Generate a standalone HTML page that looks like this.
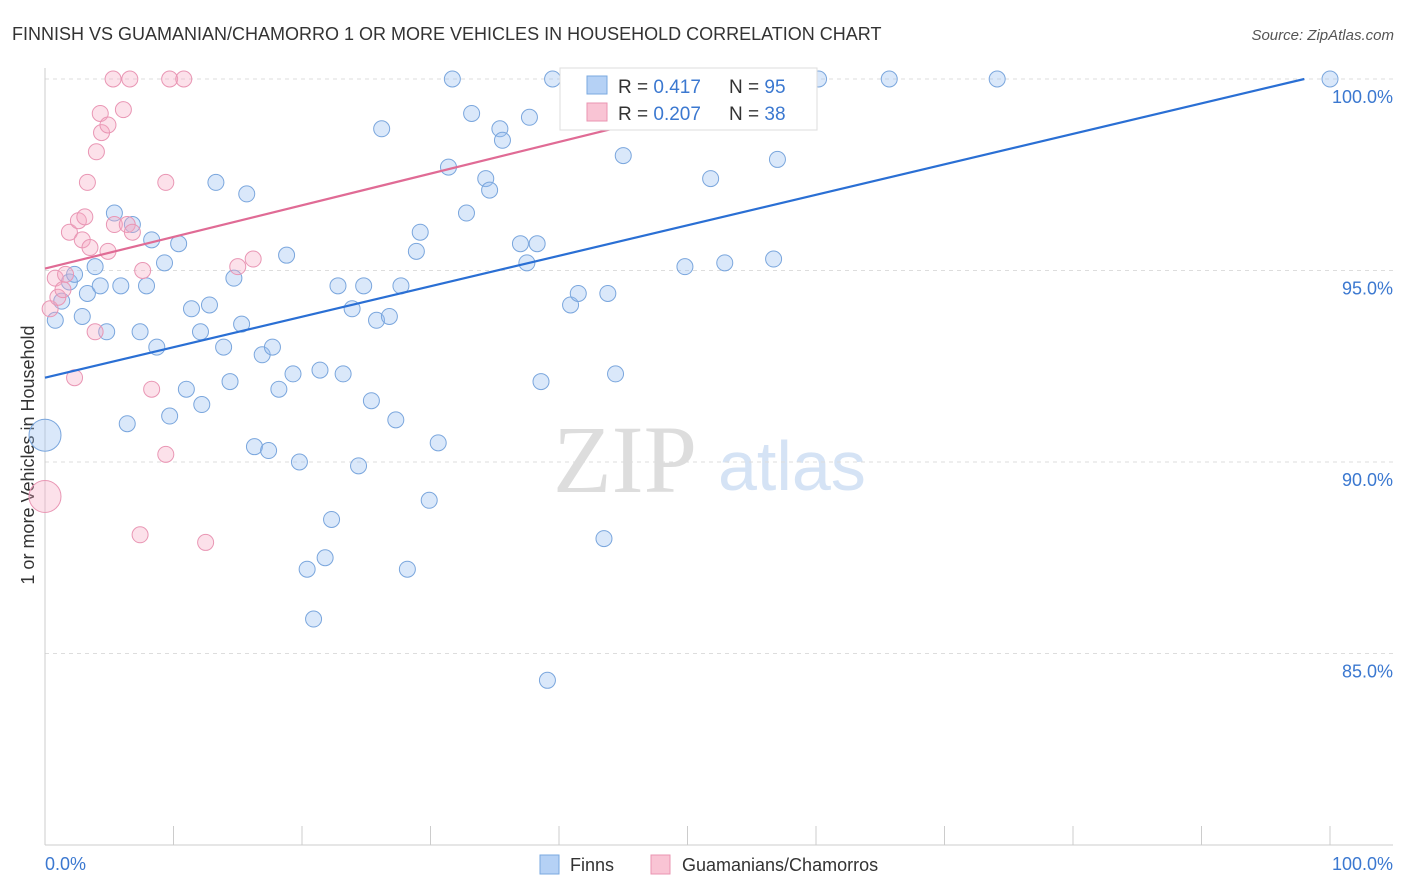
<!DOCTYPE html>
<html><head><meta charset="utf-8"><style>
body{margin:0;background:#fff;font-family:"Liberation Sans",sans-serif;}
#c{position:relative;width:1406px;height:892px;overflow:hidden}
</style></head><body>
<div id="c">
<svg id="s" width="1406" height="892" xmlns="http://www.w3.org/2000/svg">
<text x="12" y="40" font-size="18" fill="#333">FINNISH VS GUAMANIAN/CHAMORRO 1 OR MORE VEHICLES IN HOUSEHOLD CORRELATION CHART</text>
<text x="1394" y="40" font-size="15" fill="#555" font-style="italic" text-anchor="end">Source: ZipAtlas.com</text>
<text x="34" y="455" font-size="18" fill="#333" text-anchor="middle" transform="rotate(-90 34 455)">1 or more Vehicles in Household</text>
<g><text x="553" y="492" font-size="96" fill="#ddd" font-family="Liberation Serif,serif">ZIP</text><text x="718" y="490" font-size="70" fill="#d5e3f5">atlas</text></g>
<g id="grid"></g><g id="pts"></g><g id="lines"></g>
<g>
<rect x="560" y="68" width="257" height="62" fill="#fff" stroke="#ddd"/>
<rect x="587" y="76" width="20" height="18" fill="#b5d1f5" stroke="#7aa9e0"/>
<rect x="587" y="103" width="20" height="18" fill="#f9c4d4" stroke="#ea94b2"/>
<text x="618" y="93" font-size="19" fill="#333">R = <tspan fill="#3b78d0">0.417</tspan></text>
<text x="729" y="93" font-size="19" fill="#333">N = <tspan fill="#3b78d0">95</tspan></text>
<text x="618" y="120" font-size="19" fill="#333">R = <tspan fill="#3b78d0">0.207</tspan></text>
<text x="729" y="120" font-size="19" fill="#333">N = <tspan fill="#3b78d0">38</tspan></text>
</g>
<rect x="540" y="855" width="19" height="19" fill="#b5d1f5" stroke="#7aa9e0"/>
<text x="570" y="871" font-size="18" fill="#333">Finns</text>
<rect x="651" y="855" width="19" height="19" fill="#f9c4d4" stroke="#ea94b2"/>
<text x="682" y="871" font-size="18" fill="#333">Guamanians/Chamorros</text>
</svg></div>
<script>
const yTicks=[100,95,90,85];
const yTickLabels=["100.0%","95.0%","90.0%","85.0%"];
const xTickCount=10;
const finnsX=[0.8,0,1.3,1.9,2.3,2.9,3.3,3.9,4.3,4.8,5.4,5.9,6.4,6.8,7.4,7.9,8.3,8.7,9.3,9.7,10.4,11.0,11.4,12.1,12.2,12.8,13.3,13.9,14.4,14.7,15.3,15.7,16.3,16.9,17.4,17.7,18.2,18.8,19.3,19.8,20.4,20.9,21.4,21.8,22.3,22.8,23.2,23.9,24.4,24.8,25.4,25.8,26.2,26.8,27.3,27.7,28.2,28.9,29.2,29.9,30.6,31.4,31.7,32.8,33.2,34.3,34.6,35.4,35.6,37.0,37.5,37.7,38.3,38.6,39.1,39.5,40.9,41.5,42.5,43.5,43.8,44.4,45.0,46.9,49.8,51.8,52.9,55.6,56.7,57.0,58.8,60.2,65.7,74.1,100];
const finnsY=[93.7,90.7,94.2,94.7,94.9,93.8,94.4,95.1,94.6,93.4,96.5,94.6,91.0,96.2,93.4,94.6,95.8,93.0,95.2,91.2,95.7,91.9,94.0,93.4,91.5,94.1,97.3,93.0,92.1,94.8,93.6,97.0,90.4,92.8,90.3,93.0,91.9,95.4,92.3,90.0,87.2,85.9,92.4,87.5,88.5,94.6,92.3,94.0,89.9,94.6,91.6,93.7,98.7,93.8,91.1,94.6,87.2,95.5,96.0,89.0,90.5,97.7,100,96.5,99.1,97.4,97.1,98.7,98.4,95.7,95.2,99.0,95.7,92.1,84.3,100,94.1,94.4,99.6,88.0,94.4,92.3,98.0,100,95.1,97.4,95.2,100,95.3,97.9,100,100,100,100,100];
const finnsR=[8,16];
const guamX=[0,0.4,0.8,1.0,1.4,1.6,1.9,2.3,2.6,2.9,3.1,3.3,3.5,3.9,4.0,4.3,4.4,4.9,4.9,5.3,5.4,6.1,6.4,6.6,6.8,7.4,7.6,8.3,9.4,9.4,9.7,10.8,12.5,15.0,16.2,46.7];
const guamY=[89.1,94.0,94.8,94.3,94.5,94.9,96.0,92.2,96.3,95.8,96.4,97.3,95.6,93.4,98.1,99.1,98.6,98.8,95.5,100,96.2,99.2,96.2,100,96.0,88.1,95.0,91.9,90.2,97.3,100,100,87.9,95.1,95.3,100];
const finnsLine=[[0,92.2],[98,100]];
const guamLine=[[0,95.05],[49,99.1]];
const X0=45,X1=1330,YT=79,PPU=38.3;
const sx=v=>X0+(X1-X0)*v/100, sy=v=>YT+(100-v)*PPU;
const NS="http://www.w3.org/2000/svg";
function mk(t,a,p){const e=document.createElementNS(NS,t);for(const k in a)e.setAttribute(k,a[k]);p.appendChild(e);return e;}
const g=document.getElementById('grid');
yTicks.forEach((t,i)=>{
 const l=mk('line',{x1:45,x2:1393,y1:sy(t),y2:sy(t),stroke:'#ddd','stroke-dasharray':'4,4'},g);
 
 
 const tx=mk('text',{x:1393,y:sy(t)+24,'font-size':18,fill:'#3b78d0','text-anchor':'end'},g);
 tx.textContent=yTickLabels[i];
 
 
});
const ax=mk('line',{x1:45,x2:1393,y1:845,y2:845,stroke:'#ccc'},g);


const ay=mk('line',{x1:45,x2:45,y1:68,y2:845,stroke:'#ccc'},g);


for(let i=0;i<=xTickCount;i++){
 const t=mk('line',{x1:sx(i*100/xTickCount),x2:sx(i*100/xTickCount),y1:826,y2:845,stroke:'#ccc'},g);
 
 
}
const xl=mk('text',{x:45,y:870,'font-size':18,fill:'#3b78d0'},g);xl.textContent='0.0%';


const xr=mk('text',{x:1393,y:870,'font-size':18,fill:'#3b78d0','text-anchor':'end'},g);xr.textContent='100.0%';


const p=document.getElementById('pts');
finnsX.forEach((x,i)=>{
 const c=mk('circle',{cx:sx(x),cy:sy(finnsY[i]),r:x===0?finnsR[1]:finnsR[0],fill:'rgba(150,190,240,0.35)',stroke:'#7aa6dd','stroke-width':1},p);
 
 
});
guamX.forEach((x,i)=>{
 const c=mk('circle',{cx:sx(x),cy:sy(guamY[i]),r:x===0?16:8,fill:'rgba(245,170,195,0.35)',stroke:'#e996b4','stroke-width':1},p);
 
 
});
const L=document.getElementById('lines');
const bl=mk('line',{x1:sx(finnsLine[0][0]),y1:sy(finnsLine[0][1]),x2:sx(finnsLine[1][0]),y2:sy(finnsLine[1][1]),stroke:'#2a6fd4','stroke-width':2.2},L);


const pl=mk('line',{x1:sx(guamLine[0][0]),y1:sy(guamLine[0][1]),x2:sx(guamLine[1][0]),y2:sy(guamLine[1][1]),stroke:'#e06b95','stroke-width':2.2},L);


</script>
</body></html>
